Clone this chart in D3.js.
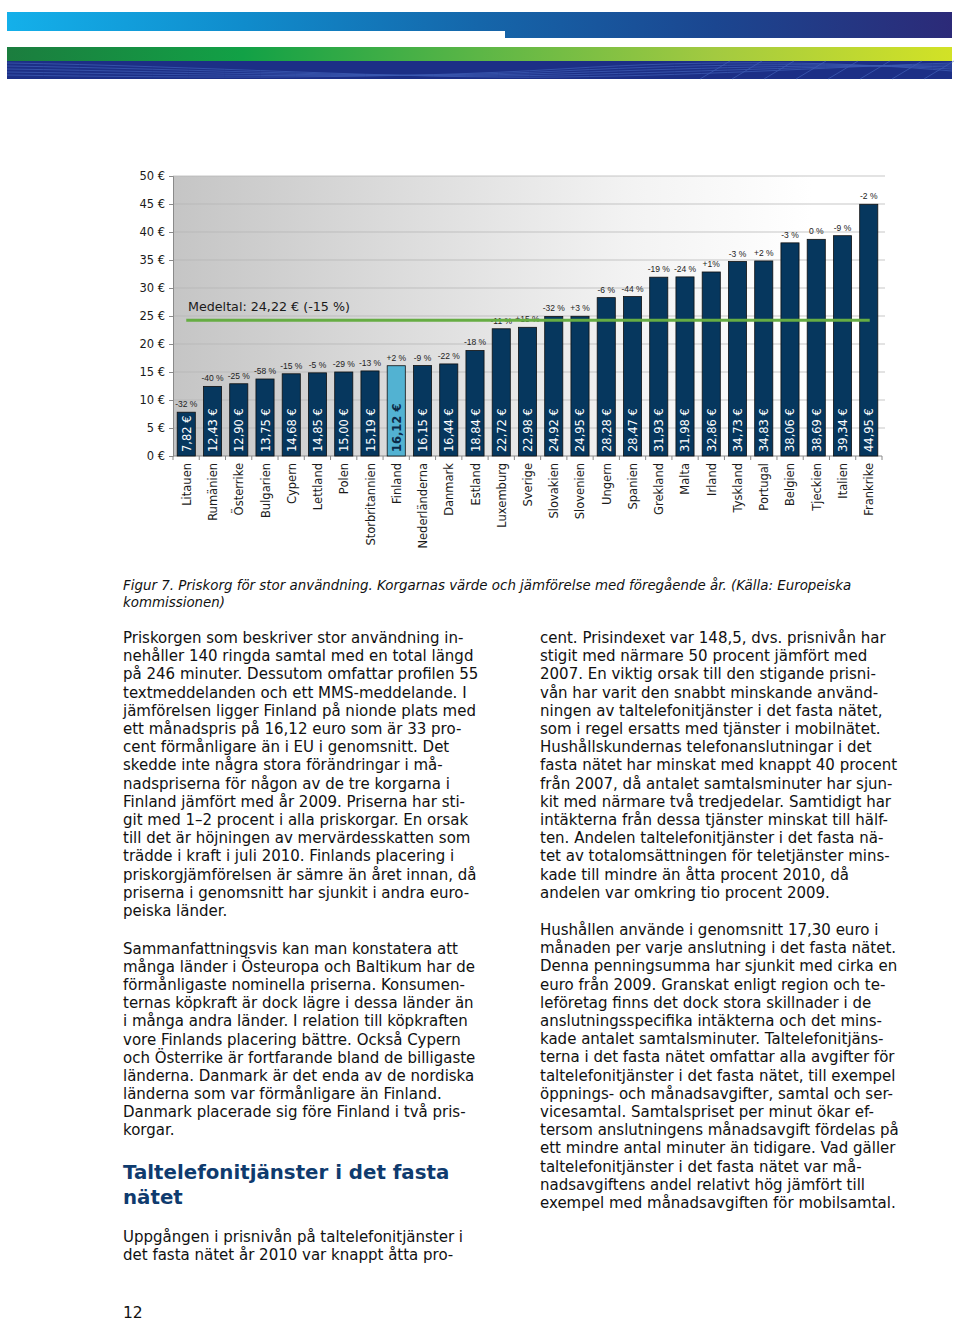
<!DOCTYPE html>
<html><head><meta charset="utf-8">
<script src="https://cdn.jsdelivr.net/npm/d3@7"></script>
<style>
html,body{margin:0;padding:0;background:#fff;}
svg{display:block;}
</style></head>
<body>
<svg id="page" width="960" height="1322"></svg>
<script>
// ---------- DATA ----------
const countries = ["Litauen","Rumänien","Österrike","Bulgarien","Cypern","Lettland","Polen","Storbritannien","Finland","Nederländerna","Danmark","Estland","Luxemburg","Sverige","Slovakien","Slovenien","Ungern","Spanien","Grekland","Malta","Irland","Tyskland","Portugal","Belgien","Tjeckien","Italien","Frankrike"];
const prices = [7.82,12.43,12.90,13.75,14.68,14.85,15.00,15.19,16.12,16.15,16.44,18.84,22.72,22.98,24.92,24.95,28.28,28.47,31.93,31.98,32.86,34.73,34.83,38.06,38.69,39.34,44.95];
const changes = ["-32 %","-40 %","-25 %","-58 %","-15 %","-5 %","-29 %","-13 %","+2 %","-9 %","-22 %","-18 %","-11 %","+15 %","-32 %","+3 %","-6 %","-44 %","-19 %","-24 %","+1%","-3 %","+2 %","-3 %","0 %","-9 %","-2 %"];
const highlight = "Finland";
const averageValue = 24.22;
const averageLabel = "Medeltal: 24,22 € (-15 %)";
const yTicks = [0,5,10,15,20,25,30,35,40,45,50];

const caption = ["Figur 7. Priskorg för stor användning. Korgarnas värde och jämförelse med föregående år. (Källa: Europeiska","kommissionen)"];
const leftPara1 = ["Priskorgen som beskriver stor användning in-","nehåller 140 ringda samtal med en total längd","på 246 minuter. Dessutom omfattar profilen 55","textmeddelanden och ett MMS-meddelande. I","jämförelsen ligger Finland på nionde plats med","ett månadspris på 16,12 euro som är 33 pro-","cent förmånligare än i EU i genomsnitt. Det","skedde inte några stora förändringar i må-","nadspriserna för någon av de tre korgarna i","Finland jämfört med år 2009. Priserna har sti-","git med 1–2 procent i alla priskorgar. En orsak","till det är höjningen av mervärdesskatten som","trädde i kraft i juli 2010. Finlands placering i","priskorgjämförelsen är sämre än året innan, då","priserna i genomsnitt har sjunkit i andra euro-","peiska länder."];
const leftPara2 = ["Sammanfattningsvis kan man konstatera att","många länder i Östeuropa och Baltikum har de","förmånligaste nominella priserna. Konsumen-","ternas köpkraft är dock lägre i dessa länder än","i många andra länder. I relation till köpkraften","vore Finlands placering bättre. Också Cypern","och Österrike är fortfarande bland de billigaste","länderna. Danmark är det enda av de nordiska","länderna som var förmånligare än Finland.","Danmark placerade sig före Finland i två pris-","korgar."];
const heading = ["Taltelefonitjänster i det fasta","nätet"];
const leftPara3 = ["Uppgången i prisnivån på taltelefonitjänster i","det fasta nätet år 2010 var knappt åtta pro-"];
const rightPara1 = ["cent. Prisindexet var 148,5, dvs. prisnivån har","stigit med närmare 50 procent jämfört med","2007. En viktig orsak till den stigande prisni-","vån har varit den snabbt minskande använd-","ningen av taltelefonitjänster i det fasta nätet,","som i regel ersatts med tjänster i mobilnätet.","Hushållskundernas telefonanslutningar i det","fasta nätet har minskat med knappt 40 procent","från 2007, då antalet samtalsminuter har sjun-","kit med närmare två tredjedelar. Samtidigt har","intäkterna från dessa tjänster minskat till hälf-","ten. Andelen taltelefonitjänster i det fasta nä-","tet av totalomsättningen för teletjänster mins-","kade till mindre än åtta procent 2010, då","andelen var omkring tio procent 2009."];
const rightPara2 = ["Hushållen använde i genomsnitt 17,30 euro i","månaden per varje anslutning i det fasta nätet.","Denna penningsumma har sjunkit med cirka en","euro från 2009. Granskat enligt region och te-","leföretag finns det dock stora skillnader i de","anslutningsspecifika intäkterna och det mins-","kade antalet samtalsminuter. Taltelefonitjäns-","terna i det fasta nätet omfattar alla avgifter för","taltelefonitjänster i det fasta nätet, till exempel","öppnings- och månadsavgifter, samtal och ser-","vicesamtal. Samtalspriset per minut ökar ef-","tersom anslutningens månadsavgift fördelas på","ett mindre antal minuter än tidigare. Vad gäller","taltelefonitjänster i det fasta nätet var må-","nadsavgiftens andel relativt hög jämfört till","exempel med månadsavgiften för mobilsamtal."];
const pageNumber = "12";

// ---------- PAGE ----------
const svg = d3.select("#page");
const defs = svg.append("defs");
const FONT = "'DejaVu Sans', Verdana, sans-serif";

// Header bands
const gBlue = defs.append("linearGradient").attr("id","gBlue").attr("gradientUnits","userSpaceOnUse")
  .attr("x1",7).attr("x2",952).attr("y1",0).attr("y2",0);
[[0,"#14b0ea"],[0.25,"#108ccc"],[0.5,"#1566aa"],[0.75,"#1b4690"],[1,"#2c2a78"]].forEach(s=>gBlue.append("stop").attr("offset",s[0]).attr("stop-color",s[1]));
const gGreen = defs.append("linearGradient").attr("id","gGreen").attr("gradientUnits","userSpaceOnUse")
  .attr("x1",7).attr("x2",952).attr("y1",0).attr("y2",0);
[[0,"#1b7d3e"],[0.25,"#12a146"],[0.5,"#5cb646"],[0.75,"#a3ca40"],[1,"#d2e226"]].forEach(s=>gGreen.append("stop").attr("offset",s[0]).attr("stop-color",s[1]));

const header = svg.append("g");
header.append("rect").attr("x",7).attr("y",12).attr("width",945).attr("height",19).attr("fill","url(#gBlue)");
header.append("rect").attr("x",505).attr("y",30).attr("width",447).attr("height",8).attr("fill","url(#gBlue)");
header.append("rect").attr("x",7).attr("y",47).attr("width",945).attr("height",14).attr("fill","url(#gGreen)");
header.append("rect").attr("x",7).attr("y",61).attr("width",945).attr("height",18).attr("fill","#1c2f86");
// subtle swoosh lines on dark band
const sw = header.append("g").attr("fill","none").attr("stroke","#4a6cc4").attr("stroke-width",0.8).attr("opacity",0.7);
for (let i=0;i<5;i++){
  sw.append("path").attr("d",`M7,${63+i*3} C200,${66+i*3} 400,${79} 560,${77-i*2} S850,${66-i} 952,${63+i*2}`);
}
for (let i=0;i<8;i++){
  sw.append("path").attr("d",`M${700+i*32},79 L${730+i*32},61`);
}

// ---------- CHART ----------
const plot = {left:173, right:882, top:176, bottom:456};
const x = d3.scaleBand().domain(countries).range([plot.left, plot.right]).paddingInner(0.31).paddingOuter(0.16);
const y = d3.scaleLinear().domain([0,50]).range([plot.bottom, plot.top]);

const gBg = defs.append("linearGradient").attr("id","gBg").attr("gradientUnits","userSpaceOnUse")
  .attr("x1",plot.left).attr("x2",plot.right).attr("y1",0).attr("y2",0);
[[0,"#c5c5c5"],[0.35,"#dedede"],[0.65,"#f3f3f3"],[0.9,"#ffffff"]].forEach(s=>gBg.append("stop").attr("offset",s[0]).attr("stop-color",s[1]));

const chart = svg.append("g");
chart.append("rect").attr("x",plot.left).attr("y",plot.top).attr("width",plot.right-plot.left).attr("height",plot.bottom-plot.top).attr("fill","url(#gBg)");

// gridlines
chart.append("g").selectAll("line").data(yTicks.filter(d=>d>0)).join("line")
  .attr("x1",plot.left).attr("x2",plot.right+3).attr("y1",d=>y(d)).attr("y2",d=>y(d))
  .attr("stroke","#b4b4b4").attr("stroke-opacity",0.75).attr("stroke-width",1);

// y axis
const yAxis = chart.append("g").attr("transform",`translate(${plot.left},0)`)
  .call(d3.axisLeft(y).tickValues(yTicks).tickSize(4).tickFormat(d=>d+" €"));
yAxis.select(".domain").attr("stroke","#8a8a8a");
yAxis.selectAll(".tick line").attr("stroke","#8a8a8a");
yAxis.selectAll("text").attr("font-family",FONT).attr("font-size","11.5px").attr("fill","#1a1a1a").attr("x",-8);

// x axis line + ticks between categories
chart.append("line").attr("x1",plot.left).attr("x2",plot.right).attr("y1",plot.bottom).attr("y2",plot.bottom).attr("stroke","#8a8a8a");
chart.append("g").selectAll("line").data(d3.range(countries.length+1)).join("line")
  .attr("x1",i=>plot.left + i*(plot.right-plot.left)/countries.length)
  .attr("x2",i=>plot.left + i*(plot.right-plot.left)/countries.length)
  .attr("y1",plot.bottom).attr("y2",plot.bottom+4).attr("stroke","#8a8a8a");

// bars
const data = countries.map((c,i)=>({c, v:prices[i], ch:changes[i]}));
const cx = d=>x(d.c)+x.bandwidth()/2;
chart.append("g").selectAll("rect").data(data).join("rect")
  .attr("x",d=>x(d.c)).attr("width",x.bandwidth())
  .attr("y",d=>y(d.v)).attr("height",d=>y(0)-y(d.v))
  .attr("fill",d=>d.c===highlight?"#52b2d2":"#06375e")
  .attr("stroke","#111").attr("stroke-width",0.8);

// value labels inside bars
chart.append("g").selectAll("text").data(data).join("text")
  .attr("transform",d=>`translate(${cx(d)+0.5},${plot.bottom-4}) rotate(-90)`)
  .attr("text-anchor","start").attr("dominant-baseline","central")
  .attr("font-family",FONT).attr("font-size","11.5px")
  .attr("font-weight",d=>d.c===highlight?"bold":"normal")
  .attr("fill",d=>d.c===highlight?"#0c2a48":"#ffffff")
  .text(d=>d3.format(".2f")(d.v).replace(".",",")+" €");

// percent change labels
chart.append("g").selectAll("text").data(data).join("text")
  .attr("x",cx).attr("y",d=>y(d.v)-5)
  .attr("text-anchor","middle")
  .attr("font-family","'Liberation Sans', Arial, sans-serif").attr("font-size","8.5px").attr("fill","#222")
  .text(d=>d.ch);

// average line
const first = data[0], last = data[data.length-1];
chart.append("line").attr("x1",cx(first)).attr("x2",cx(last)+1)
  .attr("y1",y(averageValue)).attr("y2",y(averageValue))
  .attr("stroke","#66ad43").attr("stroke-width",3);
chart.append("text").attr("x",188).attr("y",y(averageValue)-9)
  .attr("font-family",FONT).attr("font-size","12.7px").attr("fill","#1a1a1a").text(averageLabel);

// category labels
chart.append("g").selectAll("text").data(data).join("text")
  .attr("transform",d=>`translate(${cx(d)+0.5},${plot.bottom+7}) rotate(-90)`)
  .attr("text-anchor","end").attr("dominant-baseline","central")
  .attr("font-family",FONT).attr("font-size","11.5px").attr("fill","#1a1a1a")
  .text(d=>d.c);

// ---------- TEXT ----------
const txt = svg.append("g").attr("font-family",FONT).attr("fill","#111");
function block(lines, x0, y0, lh, size, opts={}){
  const t = txt.append("g");
  lines.forEach((l,i)=>{
    const e = t.append("text").attr("x",x0).attr("y",y0+i*lh).attr("font-size",size+"px").text(l);
    if(opts.weight) e.attr("font-weight",opts.weight);
    if(opts.style) e.attr("font-style",opts.style);
    if(opts.fill) e.attr("fill",opts.fill);
    if(opts.family) e.attr("font-family",opts.family);
  });
}
block(caption,123,590,16.5,13.4,{style:"italic"});
block(leftPara1,123,643,18.2,15);
block(leftPara2,123,954,18.1,15);
block(heading,123,1179,24.5,19.8,{weight:"bold",fill:"#0f3b6e"});
block(leftPara3,123,1242,18.2,15);
block(rightPara1,540,643,18.2,15);
block(rightPara2,540,935,18.2,15);
block([pageNumber],123,1318,0,15.5);
</script>
</body></html>
